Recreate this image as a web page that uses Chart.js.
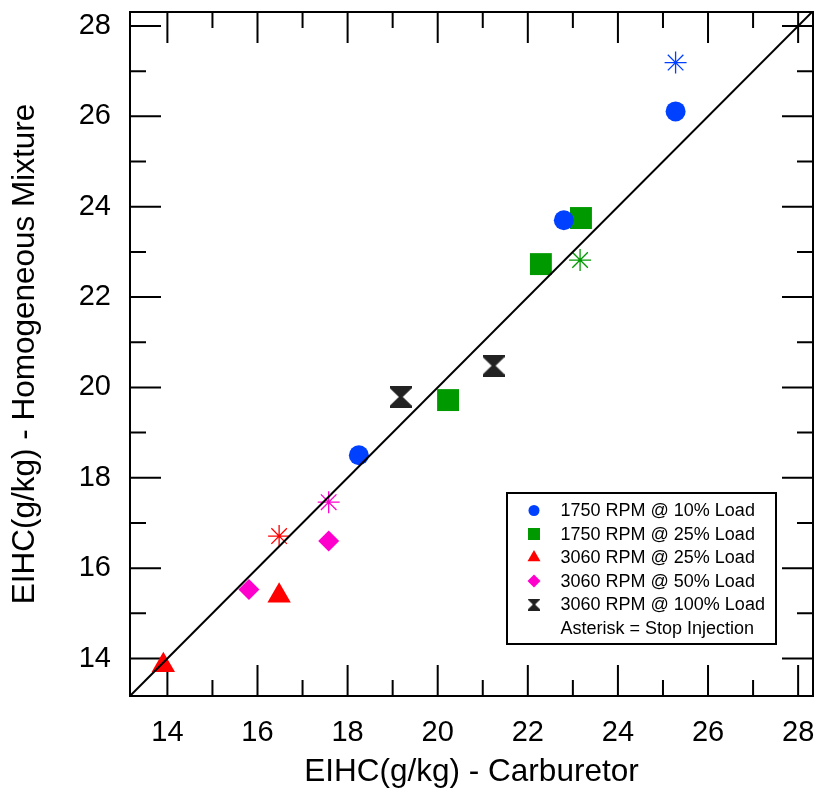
<!DOCTYPE html>
<html>
<head>
<meta charset="utf-8">
<script src="https://cdn.jsdelivr.net/npm/chart.js@4.4.1/dist/chart.umd.min.js"></script>
<style>
  html, body { margin: 0; padding: 0; background: #fff; }
  #wrap { width: 818px; height: 798px; }
</style>
</head>
<body>
<div id="wrap"><canvas id="chart" width="818" height="798"></canvas></div>
<script>
// ------------------------------------------------------------
// Data (EIHC, g/kg): x = carburetor, y = homogeneous
// ------------------------------------------------------------
const rpm1750Load10 = [{ x: 18.25, y: 18.50 }, { x: 22.80, y: 23.70 }, { x: 25.28, y: 26.11 }];
const rpm1750Load25 = [{ x: 20.23, y: 19.72 }, { x: 22.29, y: 22.73 }, { x: 23.18, y: 23.75 }];
const rpm3060Load25 = [{ x: 13.91, y: 13.85 }, { x: 16.48, y: 15.39 }];
const rpm3060Load50 = [{ x: 15.81, y: 15.53 }, { x: 17.58, y: 16.60 }];
const rpm3060Load100 = [{ x: 19.18, y: 19.79 }, { x: 21.24, y: 20.48 }];

// asterisks = stop injection
const stop1750Load10 = [{ x: 25.28, y: 27.19 }];
const stop1750Load25 = [{ x: 23.16, y: 22.82 }];
const stop3060Load25 = [{ x: 16.48, y: 16.71 }];
const stop3060Load50 = [{ x: 17.58, y: 17.46 }];

// 1:1 reference line
const parityLine = [{ x: 13, y: 13 }, { x: 29, y: 29 }];

const majorTicks = [14, 16, 18, 20, 22, 24, 26, 28];
const minorTicks = [15, 17, 19, 21, 23, 25, 27];

const legendLabels = [
  "1750 RPM @ 10% Load",
  "1750 RPM @ 25% Load",
  "3060 RPM @ 25% Load",
  "3060 RPM @ 50% Load",
  "3060 RPM @ 100% Load",
  "Asterisk = Stop Injection"
];

const BLUE = "#0040ff", GREEN = "#009900", RED = "#ff0000", MAGENTA = "#ff00cc", DARK = "#222222";
const FONT = "'Liberation Sans', Arial, sans-serif";

// hourglass marker (no built-in pointStyle for it)
function makeHourglass(size, color) {
  const c = document.createElement("canvas");
  c.width = size; c.height = size;
  const g = c.getContext("2d");
  const b = Math.max(1, size * 0.1), n = Math.max(1, size * 0.09);
  g.fillStyle = color;
  g.beginPath();
  g.moveTo(0, 0); g.lineTo(size, 0); g.lineTo(size, b);
  g.lineTo(size / 2 + n, size / 2); g.lineTo(size, size - b); g.lineTo(size, size);
  g.lineTo(0, size); g.lineTo(0, size - b); g.lineTo(size / 2 - n, size / 2);
  g.lineTo(0, b); g.closePath(); g.fill();
  return c;
}
const hourglassBig = makeHourglass(22, DARK);
const hourglassSmall = makeHourglass(12, DARK);

function markerSet(label, data, color, style, radius) {
  return {
    label, data, pointStyle: style, pointRadius: radius, pointHoverRadius: radius,
    backgroundColor: color, borderColor: color, borderWidth: 0
  };
}
function starSet(label, data, color) {
  return {
    label, data, pointStyle: "star", pointRadius: 11, pointHoverRadius: 11,
    backgroundColor: color, borderColor: color, borderWidth: 1.3
  };
}

// ------------------------------------------------------------
// Plugins: boxed frame with inward ticks, and the in-plot legend
// ------------------------------------------------------------
const framePlugin = {
  id: "frame",
  beforeDatasetsDraw(chart) {
    const { ctx, chartArea: a, scales: { x, y } } = chart;
    ctx.save();
    ctx.strokeStyle = "#000";
    ctx.lineWidth = 2;
    ctx.beginPath();
    const tick = (vals, len) => vals.forEach(v => {
      const px = x.getPixelForValue(v), py = y.getPixelForValue(v);
      ctx.moveTo(px, a.bottom); ctx.lineTo(px, a.bottom - len);
      ctx.moveTo(px, a.top); ctx.lineTo(px, a.top + len);
      ctx.moveTo(a.left, py); ctx.lineTo(a.left + len, py);
      ctx.moveTo(a.right, py); ctx.lineTo(a.right - len, py);
    });
    tick(majorTicks, 31);
    tick(minorTicks, 16);
    ctx.stroke();
    ctx.strokeRect(a.left, a.top, a.right - a.left, a.bottom - a.top);
    ctx.restore();
  }
};

const legendPlugin = {
  id: "boxLegend",
  afterDatasetsDraw(chart) {
    const { ctx, chartArea: a } = chart;
    const left = a.right - 306, top = a.bottom - 203, w = 269, h = 151;
    ctx.save();
    ctx.fillStyle = "#fff";
    ctx.fillRect(left, top, w, h);
    ctx.strokeStyle = "#000";
    ctx.lineWidth = 2;
    ctx.strokeRect(left, top, w, h);

    const symbols = [
      { pointStyle: "circle", radius: 5.5, color: BLUE },
      { pointStyle: "rect", radius: 8.5, color: GREEN },
      { pointStyle: "triangle", radius: 7.5, color: RED },
      { pointStyle: "rectRot", radius: 6.5, color: MAGENTA },
      { pointStyle: hourglassSmall, radius: 6, color: DARK },
      null
    ];
    ctx.font = "18px " + FONT;
    ctx.textBaseline = "middle";
    ctx.textAlign = "left";
    legendLabels.forEach((txt, i) => {
      const cy = top + 17.5 + i * 23.5;
      const s = symbols[i];
      if (s) {
        ctx.fillStyle = s.color;
        Chart.helpers.drawPoint(ctx, { pointStyle: s.pointStyle, radius: s.radius, rotation: 0, borderWidth: 0 }, left + 27, cy);
      }
      ctx.fillStyle = "#000";
      ctx.fillText(txt, left + 53.5, cy + 1);
    });
    ctx.restore();
  }
};

// ------------------------------------------------------------
// Chart
// ------------------------------------------------------------
new Chart(document.getElementById("chart"), {
  type: "scatter",
  data: {
    datasets: [
      {
        type: "line", label: "1:1", data: parityLine, borderColor: "#000", borderWidth: 2,
        pointRadius: 0, pointHoverRadius: 0, fill: false, tension: 0
      },
      markerSet(legendLabels[0], rpm1750Load10, BLUE, "circle", 10),
      markerSet(legendLabels[1], rpm1750Load25, GREEN, "rect", 15.5),
      markerSet(legendLabels[2], rpm3060Load25, RED, "triangle", 13.5),
      markerSet(legendLabels[3], rpm3060Load50, MAGENTA, "rectRot", 10.5),
      markerSet(legendLabels[4], rpm3060Load100, DARK, hourglassBig, 11),
      starSet("stop 1750/10", stop1750Load10, BLUE),
      starSet("stop 1750/25", stop1750Load25, GREEN),
      starSet("stop 3060/25", stop3060Load25, RED),
      starSet("stop 3060/50", stop3060Load50, MAGENTA)
    ]
  },
  options: {
    responsive: false,
    animation: false,
    events: [],
    layout: { autoPadding: false, padding: { top: 12, right: 5, left: 0, bottom: 0 } },
    plugins: { legend: { display: false }, tooltip: { enabled: false } },
    scales: {
      x: {
        type: "linear", min: 13.17, max: 28.33,
        grid: { display: false, drawTicks: false },
        border: { display: false },
        afterBuildTicks: s => { s.ticks = majorTicks.map(v => ({ value: v })); },
        afterFit: s => { s.height = 102; s.paddingLeft = 0; s.paddingRight = 0; },
        ticks: { padding: 20, color: "#000", font: { family: FONT, size: 29 } },
        title: {
          display: true, text: "EIHC(g/kg) - Carburetor", color: "#000",
          font: { family: FONT, size: 31.5 }, padding: { top: 0, bottom: 7 }
        }
      },
      y: {
        type: "linear", min: 13.17, max: 28.31,
        grid: { display: false, drawTicks: false },
        border: { display: false },
        afterBuildTicks: s => { s.ticks = majorTicks.map(v => ({ value: v })); },
        afterFit: s => { s.width = 130; s.paddingTop = 0; s.paddingBottom = 0; },
        ticks: { padding: 19, color: "#000", font: { family: FONT, size: 29 } },
        title: {
          display: true, text: "EIHC(g/kg) - Homogeneous Mixture", color: "#000",
          font: { family: FONT, size: 31.5 }, padding: { top: 6, bottom: 0 }
        }
      }
    }
  },
  plugins: [framePlugin, legendPlugin]
});
</script>
</body>
</html>
